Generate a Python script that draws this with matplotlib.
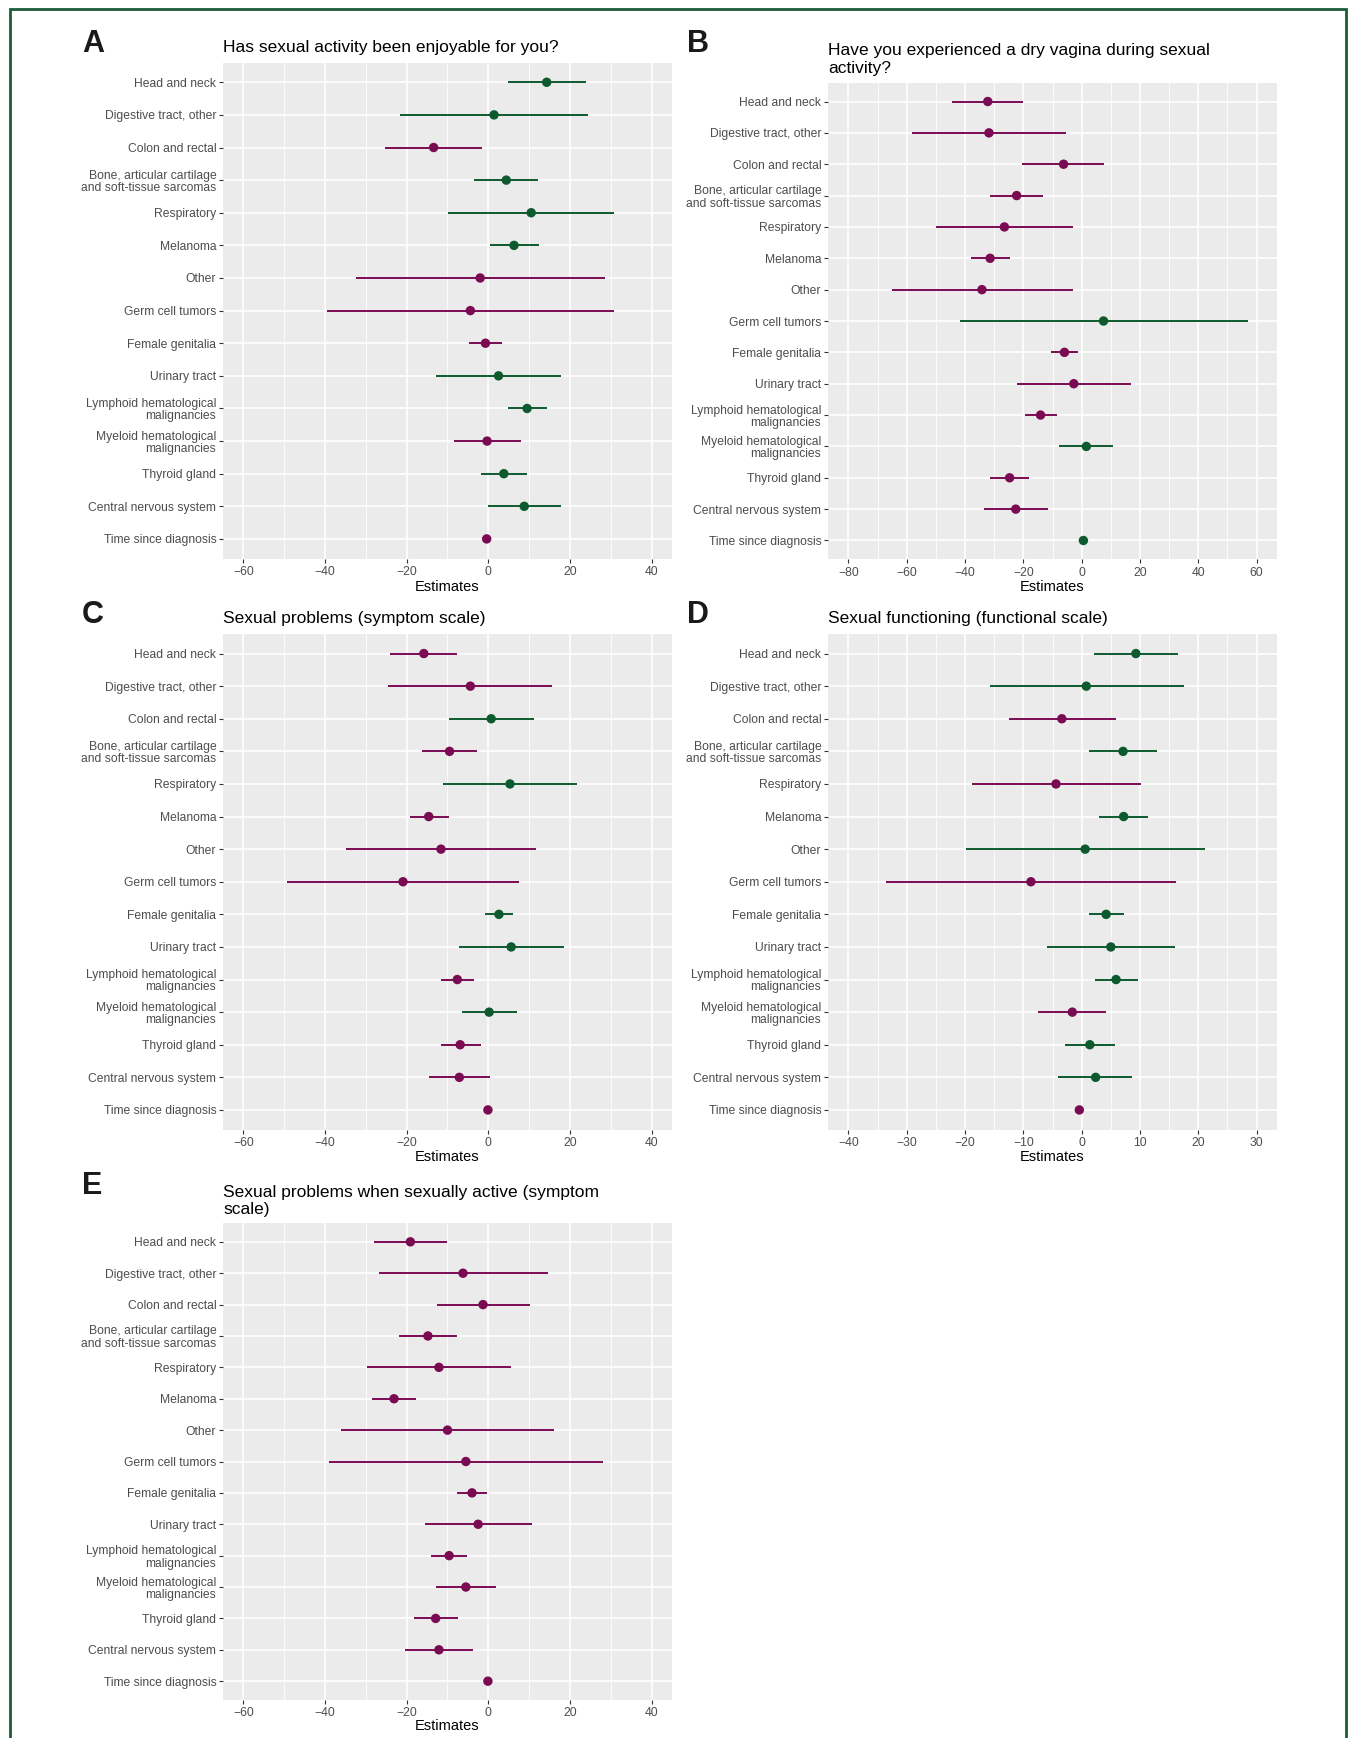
import matplotlib
matplotlib.use("Agg")
import matplotlib.pyplot as plt
from matplotlib.patches import Rectangle
from matplotlib.ticker import MultipleLocator

plt.rcParams["font.family"] = ["Liberation Sans", "DejaVu Sans"]
plt.rcParams["axes.unicode_minus"] = True

W, H = 1348, 1738
NEG = "#7A0A52"
POS = "#0D5A2E"

categories = [
    "Head and neck",
    "Digestive tract, other",
    "Colon and rectal",
    "Bone, articular cartilage\nand soft-tissue sarcomas",
    "Respiratory",
    "Melanoma",
    "Other",
    "Germ cell tumors",
    "Female genitalia",
    "Urinary tract",
    "Lymphoid hematological\nmalignancies",
    "Myeloid hematological\nmalignancies",
    "Thyroid gland",
    "Central nervous system",
    "Time since diagnosis",
]

# A: Has sexual activity been enjoyable for you?
a_est = [14.3, 1.4, -13.4, 4.4, 10.5, 6.3, -2.0, -4.4, -0.7, 2.5, 9.5, -0.3, 3.8, 8.8, -0.4]
a_low = [4.8, -21.7, -25.2, -3.4, -9.9, 0.5, -32.5, -39.5, -4.8, -12.9, 4.8, -8.5, -1.9, -0.2, -0.6]
a_high = [24.0, 24.5, -1.5, 12.1, 30.8, 12.5, 28.5, 30.8, 3.4, 17.9, 14.4, 8.0, 9.5, 17.9, -0.2]

# B: Have you experienced a dry vagina during sexual activity?
b_est = [-32.2, -31.8, -6.2, -22.3, -26.5, -31.4, -34.2, 7.5, -5.9, -2.7, -14.1, 1.6, -24.7, -22.6, 0.6]
b_low = [-44.5, -58.3, -20.4, -31.5, -49.8, -37.9, -65.2, -41.7, -10.5, -22.1, -19.4, -7.9, -31.5, -33.4, 0.3]
b_high = [-20.0, -5.3, 7.8, -13.2, -3.1, -24.6, -2.8, 57.1, -1.2, 16.9, -8.4, 10.9, -17.9, -11.7, 0.9]

# C: Sexual problems (symptom scale)
c_est = [-15.8, -4.4, 0.7, -9.5, 5.3, -14.6, -11.6, -20.9, 2.6, 5.6, -7.6, 0.2, -6.9, -7.1, -0.1]
c_low = [-24.1, -24.5, -9.7, -16.2, -11.2, -19.3, -34.9, -49.3, -0.7, -7.2, -11.6, -6.5, -11.7, -14.5, -0.3]
c_high = [-7.6, 15.7, 11.3, -2.7, 21.8, -9.7, 11.7, 7.5, 6.1, 18.5, -3.5, 7.1, -1.9, 0.3, 0.1]

# D: Sexual functioning (functional scale)
d_est = [9.3, 0.8, -3.4, 7.1, -4.4, 7.2, 0.6, -8.7, 4.2, 5.0, 5.9, -1.6, 1.4, 2.4, -0.4]
d_low = [2.2, -15.7, -12.5, 1.2, -18.8, 3.0, -19.8, -33.6, 1.2, -6.0, 2.3, -7.5, -2.9, -4.1, -0.5]
d_high = [16.6, 17.5, 5.9, 13.0, 10.1, 11.3, 21.1, 16.2, 7.2, 16.0, 9.6, 4.2, 5.7, 8.6, -0.3]

# E: Sexual problems when sexually active (symptom scale)
e_est = [-19.1, -6.2, -1.3, -14.8, -12.1, -23.1, -10.0, -5.5, -4.0, -2.5, -9.6, -5.5, -12.9, -12.1, -0.1]
e_low = [-28.0, -26.8, -12.6, -22.0, -29.8, -28.6, -36.1, -39.1, -7.7, -15.6, -14.0, -12.9, -18.2, -20.5, -0.3]
e_high = [-10.2, 14.5, 10.1, -7.6, 5.6, -17.6, 16.1, 28.2, -0.3, 10.7, -5.3, 2.0, -7.5, -3.7, 0.1]

panels = [
    ("A", "Has sexual activity been enjoyable for you?", a_est, a_low, a_high,
     (223, 672, 62.7, 558.5), (-65, 45), 20, 52.2, 586.7),
    ("B", "Have you experienced a dry vagina during sexual\nactivity?", b_est, b_low, b_high,
     (828, 1277, 82.7, 559.3), (-87, 67), 20, 52.2, 586.7),
    ("C", "Sexual problems (symptom scale)", c_est, c_low, c_high,
     (223, 672, 634, 1129.5), (-65, 45), 20, 623, 1156.7),
    ("D", "Sexual functioning (functional scale)", d_est, d_low, d_high,
     (828, 1277, 634, 1129.5), (-43.5, 33.5), 10, 623, 1156.7),
    ("E", "Sexual problems when sexually active (symptom\nscale)", e_est, e_low, e_high,
     (223, 672, 1223, 1700), (-65, 45), 20, 1193.6, 1726.3),
]

fig = plt.figure(figsize=(W / 100, H / 100), dpi=100)
fig.patch.set_facecolor("white")

# green frame, open at the bottom (picture is cropped there)
frame = Rectangle((9.5 / W, -0.02), (1346 - 9.5) / W, 1.02 - 9.3 / H,
                  transform=fig.transFigure, fill=False,
                  edgecolor="#1E5B39", linewidth=2.0)
fig.patches.append(frame)

ypos = list(range(len(categories)))

for letter, title, est, low, high, box, xlim, step, base_y, xlab_y in panels:
    left, right, top, bottom = box
    ax = fig.add_axes([left / W, 1 - bottom / H, (right - left) / W, (bottom - top) / H])
    ax.set_facecolor("#EBEBEB")
    for s in ax.spines.values():
        s.set_visible(False)
    ax.set_axisbelow(True)

    ax.set_xlim(*xlim)
    ax.set_ylim(len(categories) - 0.4, -0.6)
    ax.xaxis.set_major_locator(MultipleLocator(step))
    ax.xaxis.set_minor_locator(MultipleLocator(step / 2))
    ax.grid(which="major", axis="both", color="white", linewidth=1.2)
    ax.grid(which="minor", axis="x", color="white", linewidth=0.6)

    ax.set_yticks(ypos)
    ax.set_yticklabels(categories, linespacing=1.05)
    ax.tick_params(axis="both", which="major", length=3.2, width=0.8,
                   color="#333333", labelcolor="#4D4D4D", labelsize=8.75)
    ax.tick_params(axis="y", pad=1.6)
    ax.tick_params(axis="x", pad=2.2)
    ax.tick_params(which="minor", length=0)

    colors = [NEG if v < 0 else POS for v in est]
    ax.hlines(ypos, low, high, colors=colors, linewidth=1.4, zorder=3)
    ax.scatter(est, ypos, s=46, c=colors, zorder=4, linewidths=0)

    ax.set_xlabel("Estimates", fontsize=10.5, color="black")
    ax.xaxis.label.set_va("center")
    ax.xaxis.set_label_coords(0.5, (bottom - xlab_y) / (bottom - top))

    # va="baseline" pins the last line, so shift down by the extra lines
    n_extra = title.count("\n")
    fig.text(left / W, 1 - (base_y + n_extra * 20.7) / H, title, fontsize=12.5,
             color="black", ha="left", va="baseline", linespacing=1.2)
    letter_x = 82 if left < 500 else 687
    fig.text(letter_x / W, 1 - base_y / H, letter, fontsize=22, fontweight="bold",
             color="#1A1A1A", ha="left", va="baseline")

fig.savefig("out.png", dpi=100)
